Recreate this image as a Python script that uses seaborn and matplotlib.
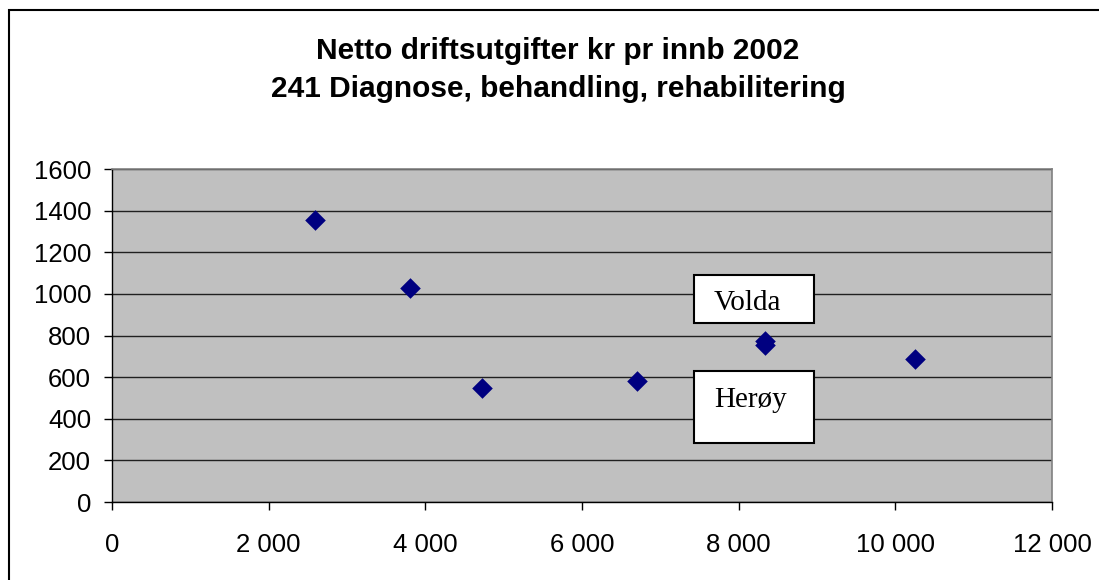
import numpy as np
import pandas as pd
import matplotlib
matplotlib.use('Agg')
import matplotlib.pyplot as plt
from matplotlib.patches import Rectangle
from matplotlib.ticker import FuncFormatter
import seaborn as sns

# data
kostnad = [2586, 3805, 4726, 6706, 8340, 8340, 10255]
netto = [1354, 1028, 547, 582, 772, 752, 689]
kommune = ['K1', 'K2', 'K3', 'K4', 'Volda', 'Herøy', 'K7']
x_ticks = np.arange(0, 12001, 2000)
y_ticks = np.arange(0, 1601, 200)
title_lines = ['Netto driftsutgifter kr pr innb 2002',
               '241 Diagnose, behandling, rehabilitering']

df = pd.DataFrame({'x': kostnad, 'y': netto, 'kommune': kommune})

sns.set_style('white')
plt.rcParams['font.family'] = ['Liberation Sans', 'DejaVu Sans']
plt.rcParams['text.color'] = 'black'
plt.rcParams['xtick.color'] = 'black'
plt.rcParams['ytick.color'] = 'black'

W, H = 1099, 580
fig = plt.figure(figsize=(W / 100, H / 100), dpi=100)


def fx(px):
    return px / W


def fy(py):
    return 1 - py / H


ax = fig.add_axes([fx(112), fy(502), fx(1052) - fx(112), fy(169) - fy(502)])
ax.set_facecolor('#C0C0C0')

sns.scatterplot(data=df, x='x', y='y', marker='D', s=110, color='#000080',
                edgecolor='#000080', linewidth=0, ax=ax, zorder=3)

ax.set_xlim(0, 12000)
ax.set_ylim(0, 1600)
ax.set_xticks(x_ticks)
ax.set_yticks(y_ticks)
ax.xaxis.set_major_formatter(FuncFormatter(lambda v, p: f'{int(v):,}'.replace(',', ' ')))
ax.set_xlabel('')
ax.set_ylabel('')
ax.tick_params(axis='both', labelsize=18.5, length=6, width=1, color='black',
               labelcolor='black', direction='out', bottom=True, left=True)
ax.tick_params(axis='x', pad=16)
ax.tick_params(axis='y', pad=9)
ax.grid(axis='y', color='#202020', linewidth=1)
ax.set_axisbelow(True)

for side in ['top', 'right']:
    ax.spines[side].set_color('#808080')
    ax.spines[side].set_linewidth(1.2)
for side in ['left', 'bottom']:
    ax.spines[side].set_color('black')
    ax.spines[side].set_linewidth(1)
    ax.spines[side].set_visible(True)

# title
fig.text(fx(558), fy(59), title_lines[0], ha='center', va='baseline',
         fontsize=21.5, fontweight='bold', color='black')
fig.text(fx(558), fy(97), title_lines[1], ha='center', va='baseline',
         fontsize=21.5, fontweight='bold', color='black')

# label boxes
for label, top, bottom, base in [('Volda', 275, 323, 310), ('Herøy', 371, 443, 407)]:
    fig.add_artist(Rectangle((fx(694), fy(bottom)), fx(814) - fx(694), fy(top) - fy(bottom),
                             transform=fig.transFigure, facecolor='white',
                             edgecolor='black', linewidth=1.5, zorder=5))
    fig.text(fx(714), fy(base), label, ha='left', va='baseline', fontsize=21,
             family=['Liberation Serif', 'DejaVu Serif'], color='black', zorder=6)

# chart frame
fig.add_artist(Rectangle((fx(9), fy(600)), fx(1120) - fx(9), fy(10) - fy(600),
                         transform=fig.transFigure, fill=False,
                         edgecolor='black', linewidth=1.5, zorder=10))

fig.savefig('out.png', dpi=100)
